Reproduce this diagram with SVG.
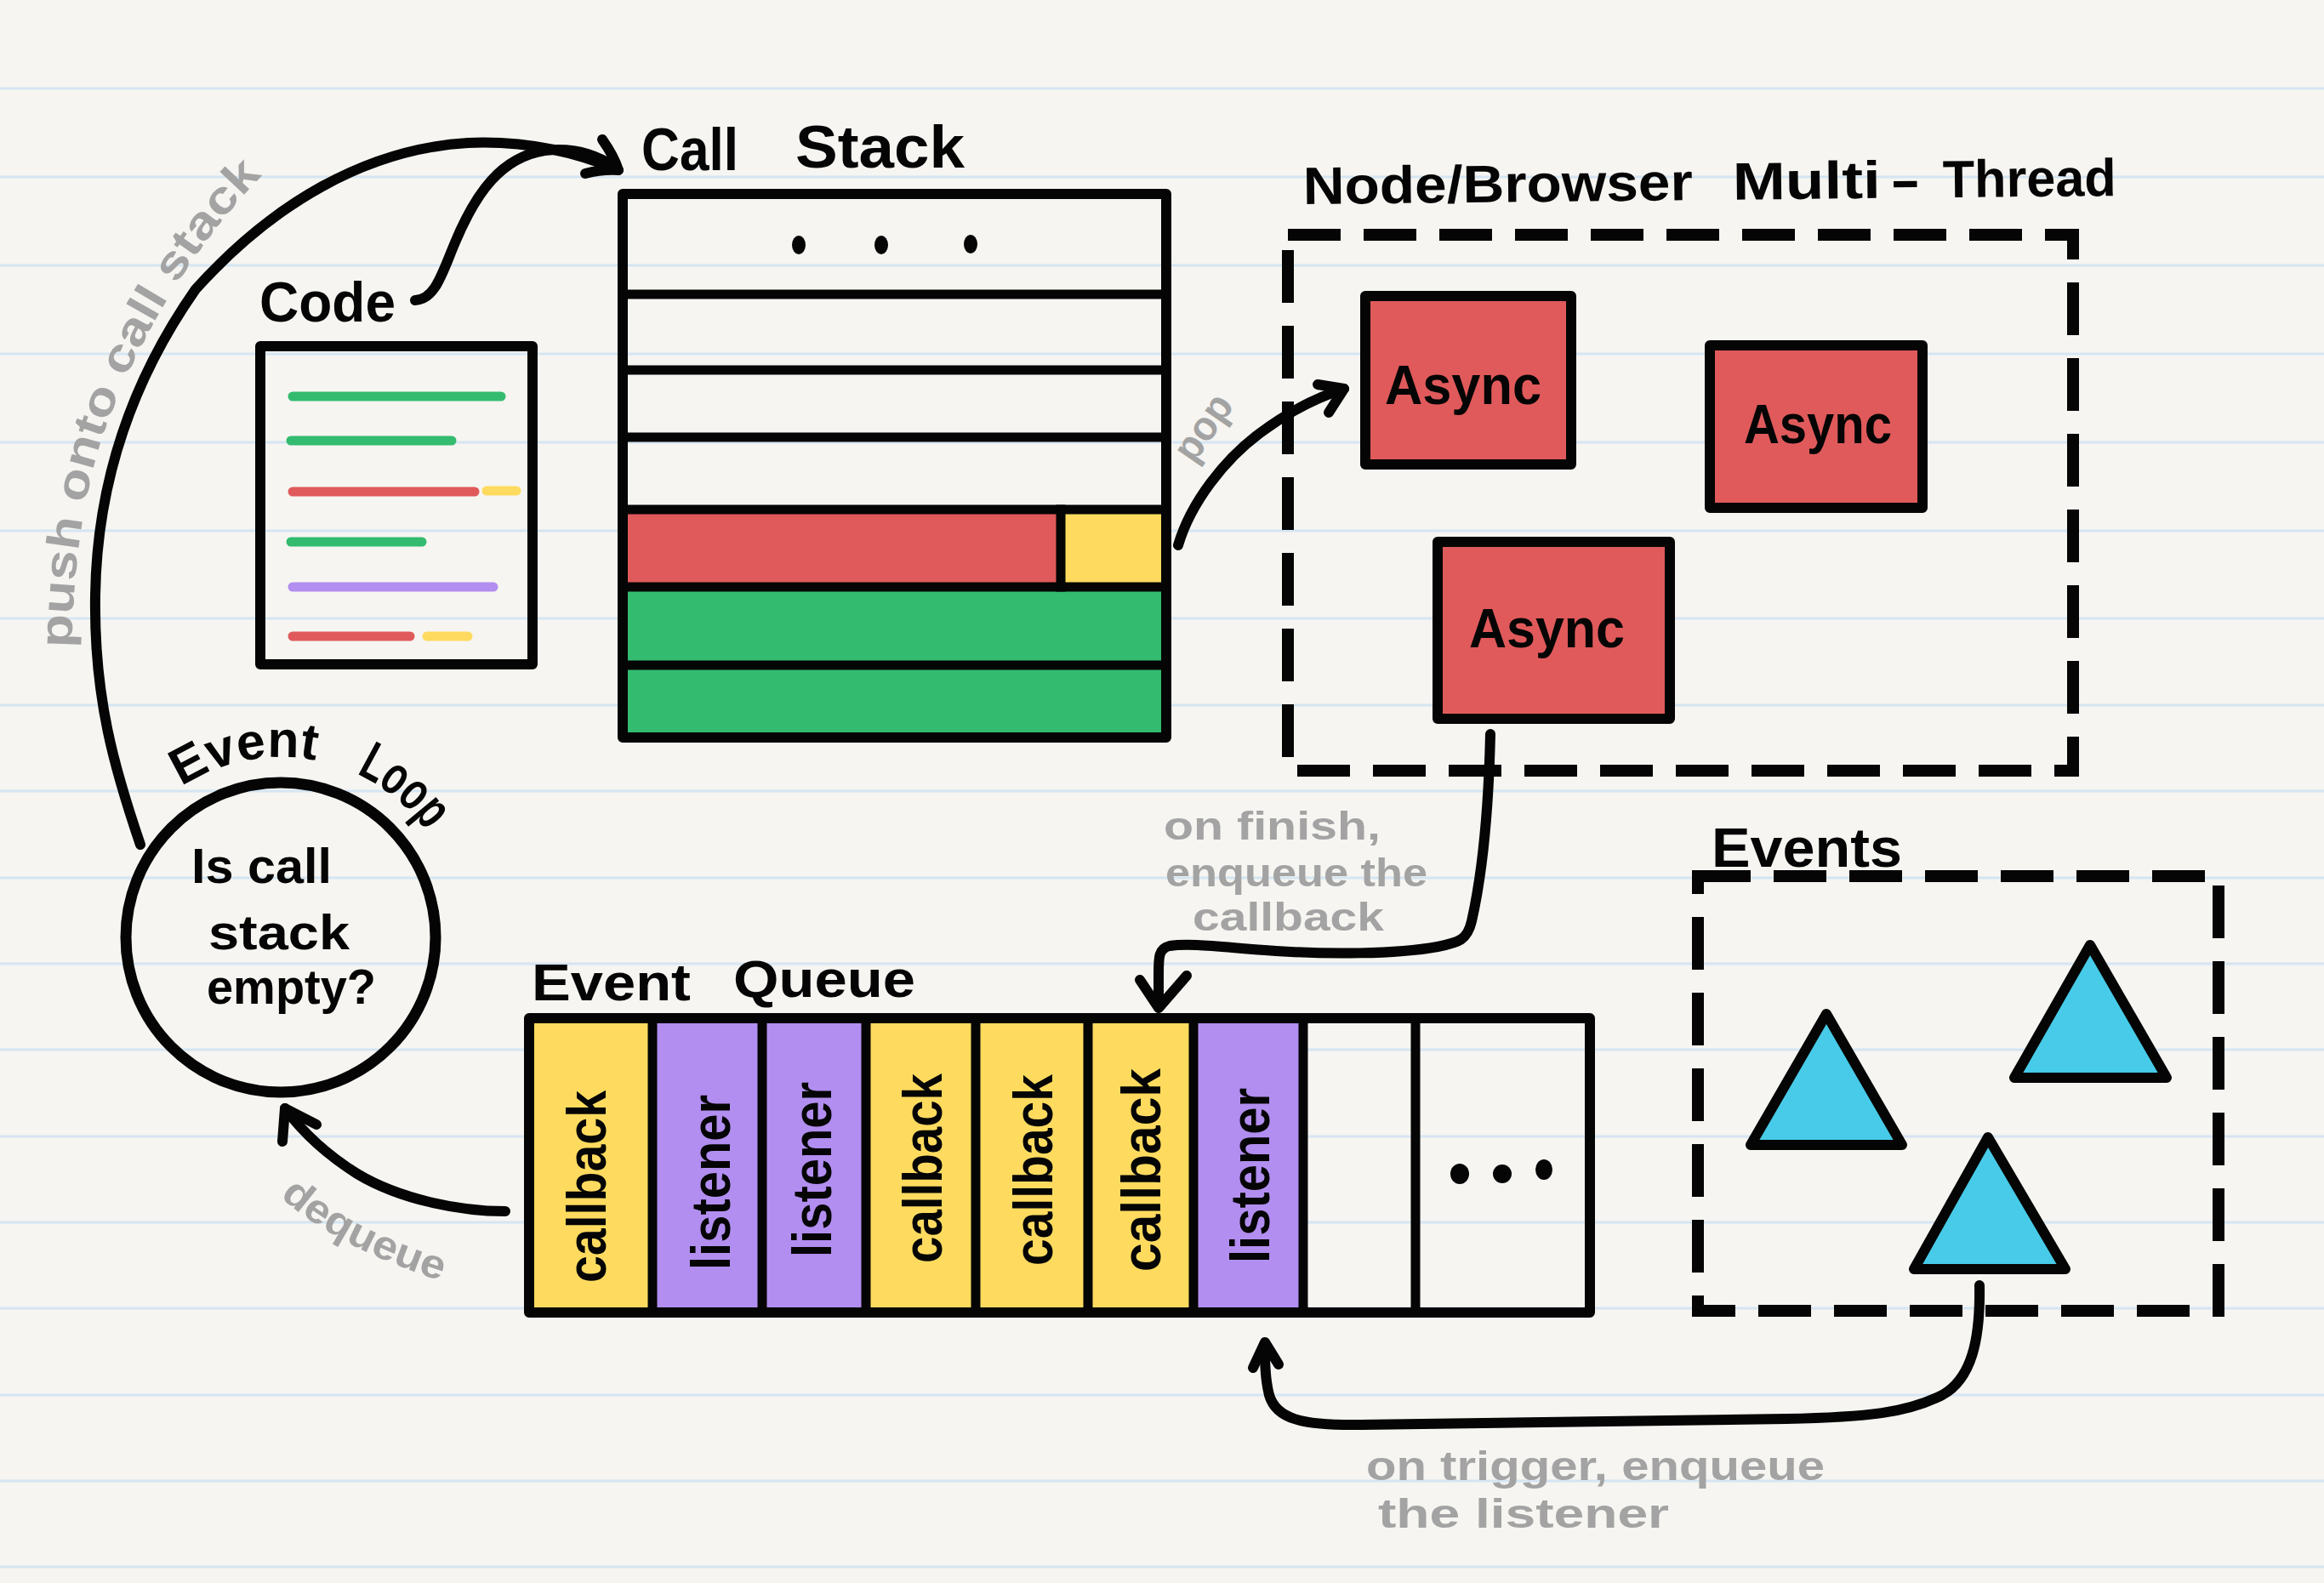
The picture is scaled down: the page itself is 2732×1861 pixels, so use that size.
<svg xmlns="http://www.w3.org/2000/svg" width="2732" height="1861" viewBox="0 0 2732 1861">
<defs>
<style>
.bg{fill:#f6f5f1}
.rule{stroke:#d5e5f2;stroke-width:3}
.ink{fill:none;stroke:#050505;stroke-width:12;stroke-linecap:round;stroke-linejoin:round}
.row{stroke:#050505;stroke-width:11;stroke-linecap:square}
.dash{fill:none;stroke:#050505;stroke-width:14;stroke-dasharray:62 27}
.bar{stroke-width:11;stroke-linecap:round}
.lbl{font-family:"Liberation Sans",Arial,sans-serif;font-weight:700;fill:#050505}
.note{font-family:"Liberation Sans",Arial,sans-serif;font-weight:700;fill:#a3a3a3}
.cell{font-family:"Liberation Sans",Arial,sans-serif;font-weight:700;fill:#050505;font-size:64px}
.red{fill:#e05a5b}
.yel{fill:#fedb5f}
.grn{fill:#33bb70}
.pur{fill:#b28ef0}
.blu{fill:#47cbe8}
.box{stroke:#050505;stroke-width:12;stroke-linejoin:round}
.dot{fill:#050505}
</style>
<path id="loopArc" d="M199.5,934.9 A212,212 0 0 1 522.1,1012.4"/>
<path id="pushPath" d="M84,768 C86,650 103,550 133,480 C160,410 225,285 322,193"/>
<path id="deqPath" d="M326,1404 Q400,1472 545,1514"/>
<path id="popPath" d="M1402,548 L1462,462"/>
</defs>

<rect class="bg" x="0" y="0" width="2732" height="1861"/>
<g id="ruled-lines">
<line class="rule" x1="0" y1="104" x2="2732" y2="104"/>
<line class="rule" x1="0" y1="208" x2="2732" y2="208"/>
<line class="rule" x1="0" y1="312" x2="2732" y2="312"/>
<line class="rule" x1="0" y1="416" x2="2732" y2="416"/>
<line class="rule" x1="0" y1="520" x2="2732" y2="520"/>
<line class="rule" x1="0" y1="624" x2="2732" y2="624"/>
<line class="rule" x1="0" y1="727" x2="2732" y2="727"/>
<line class="rule" x1="0" y1="829" x2="2732" y2="829"/>
<line class="rule" x1="0" y1="930" x2="2732" y2="930"/>
<line class="rule" x1="0" y1="1032" x2="2732" y2="1032"/>
<line class="rule" x1="0" y1="1133" x2="2732" y2="1133"/>
<line class="rule" x1="0" y1="1234" x2="2732" y2="1234"/>
<line class="rule" x1="0" y1="1336" x2="2732" y2="1336"/>
<line class="rule" x1="0" y1="1437" x2="2732" y2="1437"/>
<line class="rule" x1="0" y1="1538" x2="2732" y2="1538"/>
<line class="rule" x1="0" y1="1640" x2="2732" y2="1640"/>
<line class="rule" x1="0" y1="1741" x2="2732" y2="1741"/>
<line class="rule" x1="0" y1="1842" x2="2732" y2="1842"/>
</g>

<g id="code">
<text class="lbl" x="305" y="378" font-size="66" textLength="160" lengthAdjust="spacingAndGlyphs">Code</text>
<rect class="box" x="306" y="407" width="320" height="374" fill="none"/>
<line class="bar" x1="344" y1="466" x2="589" y2="466" stroke="#33bb70"/>
<line class="bar" x1="342" y1="518" x2="531" y2="518" stroke="#33bb70"/>
<line class="bar" x1="344" y1="578" x2="558" y2="578" stroke="#e05a5b"/>
<line class="bar" x1="572" y1="577" x2="607" y2="577" stroke="#fedb5f"/>
<line class="bar" x1="342" y1="637" x2="496" y2="637" stroke="#33bb70"/>
<line class="bar" x1="344" y1="690" x2="580" y2="690" stroke="#b28ef0"/>
<line class="bar" x1="344" y1="748" x2="482" y2="748" stroke="#e05a5b"/>
<line class="bar" x1="502" y1="748" x2="550" y2="748" stroke="#fedb5f"/>
</g>

<g id="call-stack">
<text class="lbl" y="200" font-size="70"><tspan x="754" textLength="114" lengthAdjust="spacingAndGlyphs">Call</tspan><tspan> </tspan><tspan x="935" y="197" textLength="199" lengthAdjust="spacingAndGlyphs">Stack</tspan></text>
<rect class="red" x="732" y="599" width="515" height="91"/>
<rect class="yel" x="1247" y="599" width="124" height="91"/>
<rect class="grn" x="732" y="690" width="639" height="92"/>
<rect class="grn" x="732" y="782" width="639" height="85"/>
<line class="row" x1="732" y1="346" x2="1371" y2="346"/>
<line class="row" x1="732" y1="435" x2="1371" y2="435"/>
<line class="row" x1="732" y1="514" x2="1371" y2="514"/>
<line class="row" x1="732" y1="599" x2="1371" y2="599"/>
<line class="row" x1="732" y1="690" x2="1371" y2="690"/>
<line class="row" x1="732" y1="782" x2="1371" y2="782"/>
<line class="row" x1="1247" y1="599" x2="1247" y2="690"/>
<rect class="box" x="732" y="228" width="639" height="639" fill="none"/>
<ellipse class="dot" cx="939" cy="288" rx="8" ry="11"/>
<ellipse class="dot" cx="1036" cy="288" rx="8" ry="11"/>
<ellipse class="dot" cx="1141" cy="287" rx="8" ry="11"/>
</g>

<g id="node-browser">
<text class="lbl" y="240" font-size="62" transform="rotate(-0.6 1532 240)"><tspan x="1532" textLength="458" lengthAdjust="spacingAndGlyphs">Node/Browser</tspan><tspan> </tspan><tspan x="2037" textLength="174" lengthAdjust="spacingAndGlyphs">Multi</tspan><tspan x="2222" textLength="36" lengthAdjust="spacingAndGlyphs">-</tspan><tspan x="2284" textLength="204" lengthAdjust="spacingAndGlyphs">Thread</tspan></text>
<rect class="dash" x="1514" y="276" width="923" height="630"/>
</g>

<g id="async-1">
<rect class="red box" x="1605" y="348" width="242" height="198"/>
<text class="lbl" x="1628" y="475" font-size="64" textLength="184" lengthAdjust="spacingAndGlyphs">Async</text>
</g>
<g id="async-2">
<rect class="red box" x="2010" y="406" width="250" height="191"/>
<text class="lbl" x="2050" y="521" font-size="64" textLength="174" lengthAdjust="spacingAndGlyphs">Async</text>
</g>
<g id="async-3">
<rect class="red box" x="1690" y="637" width="273" height="208"/>
<text class="lbl" x="1727" y="761" font-size="64" textLength="183" lengthAdjust="spacingAndGlyphs">Async</text>
</g>

<g id="event-loop">
<circle cx="330" cy="1102" r="182" fill="none" stroke="#050505" stroke-width="13"/>
<text class="lbl" font-size="60"><textPath href="#loopArc" startOffset="17" textLength="165" lengthAdjust="spacingAndGlyphs">Event</textPath></text>
<text class="lbl" font-size="64"><textPath href="#loopArc" startOffset="232" textLength="108" lengthAdjust="spacingAndGlyphs">Loop</textPath></text>
<text class="lbl" x="225" y="1038" font-size="57" textLength="165" lengthAdjust="spacingAndGlyphs">Is call</text>
<text class="lbl" x="245" y="1116" font-size="57" textLength="166" lengthAdjust="spacingAndGlyphs">stack</text>
<text class="lbl" x="243" y="1180" font-size="57" textLength="199" lengthAdjust="spacingAndGlyphs">empty?</text>
</g>

<g id="event-queue">
<text class="lbl" y="1176" font-size="62"><tspan x="625" textLength="187" lengthAdjust="spacingAndGlyphs">Event</tspan><tspan> </tspan><tspan x="862" y="1172" textLength="214" lengthAdjust="spacingAndGlyphs">Queue</tspan></text>
<rect class="yel" x="622" y="1197" width="145" height="346"/>
<rect class="pur" x="767" y="1197" width="129" height="346"/>
<rect class="pur" x="896" y="1197" width="122" height="346"/>
<rect class="yel" x="1018" y="1197" width="129" height="346"/>
<rect class="yel" x="1147" y="1197" width="132" height="346"/>
<rect class="yel" x="1279" y="1197" width="124" height="346"/>
<rect class="pur" x="1403" y="1197" width="129" height="346"/>
<line class="row" x1="767" y1="1197" x2="767" y2="1543"/>
<line class="row" x1="896" y1="1197" x2="896" y2="1543"/>
<line class="row" x1="1018" y1="1197" x2="1018" y2="1543"/>
<line class="row" x1="1147" y1="1197" x2="1147" y2="1543"/>
<line class="row" x1="1279" y1="1197" x2="1279" y2="1543"/>
<line class="row" x1="1403" y1="1197" x2="1403" y2="1543"/>
<line class="row" x1="1532" y1="1197" x2="1532" y2="1543"/>
<line class="row" x1="1664" y1="1197" x2="1664" y2="1543"/>
<rect class="box" x="622" y="1197" width="1247" height="346" fill="none"/>
<text class="cell" transform="translate(712 1508) rotate(-90)" textLength="226" lengthAdjust="spacingAndGlyphs">callback</text>
<text class="cell" transform="translate(858 1493) rotate(-90)" textLength="206" lengthAdjust="spacingAndGlyphs">listener</text>
<text class="cell" transform="translate(977 1478) rotate(-90)" textLength="206" lengthAdjust="spacingAndGlyphs">listener</text>
<text class="cell" transform="translate(1107 1485) rotate(-90)" textLength="223" lengthAdjust="spacingAndGlyphs">callback</text>
<text class="cell" transform="translate(1237 1488) rotate(-90)" textLength="225" lengthAdjust="spacingAndGlyphs">callback</text>
<text class="cell" transform="translate(1364 1495) rotate(-90)" textLength="239" lengthAdjust="spacingAndGlyphs">callback</text>
<text class="cell" transform="translate(1492 1485) rotate(-90)" textLength="206" lengthAdjust="spacingAndGlyphs">listener</text>
<ellipse class="dot" cx="1716" cy="1380" rx="11" ry="12"/>
<ellipse class="dot" cx="1766" cy="1380" rx="11" ry="11"/>
<ellipse class="dot" cx="1815" cy="1375" rx="10" ry="12"/>
</g>

<g id="events">
<text class="lbl" x="2012" y="1019" font-size="64" textLength="224" lengthAdjust="spacingAndGlyphs">Events</text>
<rect class="dash" x="1996" y="1030" width="612" height="511"/>
<polygon id="tri-1" class="blu box" points="2147,1192 2058,1346 2236,1346" stroke-width="10"/>
<polygon id="tri-2" class="blu box" points="2457,1111 2368,1267 2547,1267" stroke-width="10"/>
<polygon id="tri-3" class="blu box" points="2337,1337 2250,1492 2428,1492" stroke-width="10"/>
</g>

<g id="connectors">
<path class="ink" d="M165,993 C135,905 110,820 112,700 C114,560 160,440 230,340 C320,240 430,175 550,168 C620,165 680,180 727,200"/>
<path class="ink" d="M708,164 Q722,184 727,200 Q707,199 688,204"/>
<path class="ink" d="M488,353 C512,352 520,320 535,285 C560,225 590,185 640,177 C680,172 705,185 725,197"/>
<path class="ink" d="M1385,641 C1400,590 1440,540 1480,510 C1520,480 1555,465 1580,457"/>
<path class="ink" d="M1549,452 L1580,457 L1562,485"/>
<path class="ink" d="M1752,863 C1750,950 1742,1030 1730,1083 C1725,1105 1715,1108 1690,1113 C1640,1122 1560,1122 1500,1118 C1440,1114 1400,1108 1375,1112 C1362,1115 1362,1125 1362,1145 L1362,1183"/>
<path class="ink" d="M1340,1152 L1362,1185 L1395,1147"/>
<path class="ink" d="M594,1424 C540,1424 470,1410 420,1380 C385,1358 355,1330 335,1303"/>
<path class="ink" d="M332,1342 L335,1303 L372,1322"/>
<path class="ink" d="M2327,1511 C2328,1570 2320,1625 2277,1643 C2240,1660 2200,1666 2100,1668 L1600,1675 C1530,1676 1500,1668 1492,1640 C1487,1620 1487,1600 1487,1580"/>
<path class="ink" d="M1473,1608 L1487,1578 L1503,1604"/>
</g>

<g id="connector-labels">
<text class="note" font-size="54"><textPath href="#pushPath" startOffset="6" textLength="615" lengthAdjust="spacingAndGlyphs">push onto call stack</textPath></text>
<text class="note" font-size="48"><textPath href="#deqPath" startOffset="4" textLength="215" lengthAdjust="spacingAndGlyphs">dequeue</textPath></text>
<text class="note" font-size="48"><textPath href="#popPath" startOffset="2" textLength="85" lengthAdjust="spacingAndGlyphs">pop</textPath></text>
<text class="note" x="1368" y="987" font-size="46" textLength="255" lengthAdjust="spacingAndGlyphs">on finish,</text>
<text class="note" x="1370" y="1042" font-size="46" textLength="308" lengthAdjust="spacingAndGlyphs">enqueue the</text>
<text class="note" x="1402" y="1094" font-size="46" textLength="225" lengthAdjust="spacingAndGlyphs">callback</text>
<text class="note" x="1606" y="1740" font-size="48" textLength="539" lengthAdjust="spacingAndGlyphs">on trigger, enqueue</text>
<text class="note" x="1620" y="1796" font-size="48" textLength="342" lengthAdjust="spacingAndGlyphs">the listener</text>
</g>
</svg>
